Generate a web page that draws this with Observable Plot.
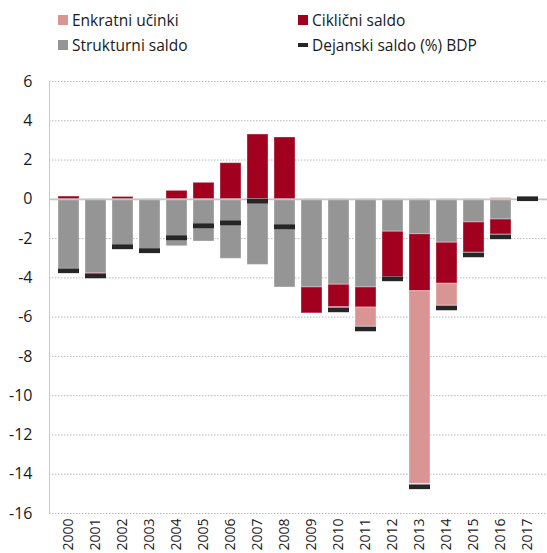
<!DOCTYPE html>
<html>
<head>
<meta charset="utf-8">
<script src="https://cdn.jsdelivr.net/npm/d3@7"></script>
<script src="https://cdn.jsdelivr.net/npm/@observablehq/plot@0.6"></script>
<style>
  html, body { margin: 0; padding: 0; background: #fff; }
  body { width: 547px; height: 553px; overflow: hidden; font-family: "Open Sans", sans-serif; }
  #legend { position: relative; height: 60px; width: 547px; font-size: 15.5px; color: #1a1a1a; }
  .item { position: absolute; display: flex; align-items: center; height: 20px; white-space: nowrap; }
  .sw { width: 10px; height: 10px; margin-right: 4px; }
  .sw.tick { height: 4px; }
</style>
</head>
<body>
<div id="legend"></div>
<div id="chart"></div>
<script>
const years = ["2000","2001","2002","2003","2004","2005","2006","2007","2008","2009","2010","2011","2012","2013","2014","2015","2016","2017"];
const structural = [-3.54, -3.76, -2.45, -2.6, -2.39, -2.15, -3.03, -3.34, -4.49, -4.49, -4.35, -4.49, -1.65, -1.78, -2.21, -1.18, -1.03, 0];
const cyclical   = [0.14, -0.05, 0.12, 0, 0.43, 0.84, 1.84, 3.3, 3.15, -1.32, -1.14, -1.02, -2.31, -2.9, -2.09, -1.53, -0.76, 0];
const oneoff     = [0, 0, 0, 0, 0, 0, 0, 0, 0, 0, 0, -0.97, 0, -9.81, -1.11, 0, 0.07, 0];
const actual     = [-3.64, -3.9, -2.42, -2.62, -1.96, -1.35, -1.2, -0.09, -1.4, null, -5.63, -6.6, -4.05, -14.64, -5.53, -2.83, -1.91, 0.03];
const yTicks = [-16, -14, -12, -10, -8, -6, -4, -2, 0, 2, 4, 6];

const seriesNames = ["Strukturni saldo", "Ciklični saldo", "Enkratni učinki"];
const seriesColors = ["#959595", "#a1001f", "#d99594"];
const markerName = "Dejanski saldo (%) BDP";
const markerColor = "#262626";

const long = [];
years.forEach((yr, i) => {
  long.push({year: yr, series: seriesNames[0], value: structural[i]});
  long.push({year: yr, series: seriesNames[1], value: cyclical[i]});
  long.push({year: yr, series: seriesNames[2], value: oneoff[i]});
});
const markers = years.map((yr, i) => ({year: yr, value: actual[i]})).filter(d => d.value !== null);

// Legend
const legendItems = [
  {label: seriesNames[2], color: seriesColors[2], left: 58, top: 10, tick: false},
  {label: seriesNames[1], color: seriesColors[1], left: 298, top: 10, tick: false},
  {label: seriesNames[0], color: seriesColors[0], left: 58, top: 35, tick: false},
  {label: markerName, color: markerColor, left: 298, top: 35, tick: true}
];
const leg = document.getElementById("legend");
legendItems.forEach(it => {
  const d = document.createElement("div");
  d.className = "item";
  d.style.left = it.left + "px";
  d.style.top = it.top + "px";
  const s = document.createElement("span");
  s.className = "sw" + (it.tick ? " tick" : "");
  s.style.background = it.color;
  d.appendChild(s);
  const t = document.createElement("span");
  t.textContent = it.label;
  d.appendChild(t);
  leg.appendChild(d);
});

const chart = Plot.plot({
  width: 547,
  height: 493,
  marginLeft: 49,
  marginRight: 0,
  marginTop: 21,
  marginBottom: 40,
  style: {fontFamily: "Open Sans, sans-serif", fontSize: "16px", color: "#1a1a1a", background: "#fff"},
  x: {domain: years, padding: 0.23, label: null},
  y: {domain: [-16, 6], label: null},
  color: {domain: seriesNames, range: seriesColors},
  marks: [
    Plot.ruleY(yTicks.filter(d => d !== 0), {stroke: "#b8b8b8", strokeDasharray: "1.5,1.5", strokeWidth: 1}),
    Plot.barY(long, {filter: d => d.value !== 0, x: "year", y: "value", fill: "series", stroke: "white", strokeOpacity: 0.35, strokeWidth: 1, order: seriesNames}),
    Plot.ruleY([0], {stroke: "#c4c4c4", strokeWidth: 1.8}),
    Plot.frame({anchor: "left", stroke: "#c8c8c8"}),
    Plot.tickY(markers, {x: "year", y: "value", stroke: markerColor, strokeWidth: 4.7}),
    Plot.axisY({ticks: yTicks, tickSize: 0, tickPadding: 17, tickFormat: d => String(d), fontSize: 16}),
    Plot.axisX({tickSize: 0, tickPadding: 5, tickRotate: -90, fontSize: 14})
  ]
});
document.getElementById("chart").appendChild(chart);
</script>
</body>
</html>
